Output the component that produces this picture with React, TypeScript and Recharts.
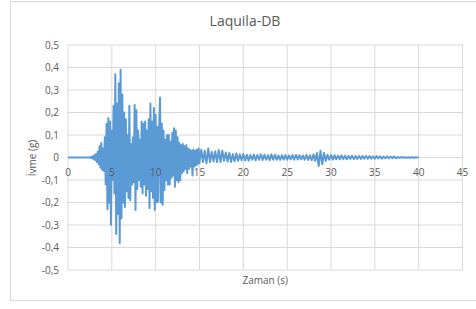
import React from 'react';
import { LineChart, Line, XAxis, YAxis, CartesianGrid } from 'recharts';

// time axis (s) and acceleration axis (g)
const X_TICKS = [0, 5, 10, 15, 20, 25, 30, 35, 40, 45];
const Y_TICKS = [-0.5, -0.4, -0.3, -0.2, -0.1, 0, 0.1, 0.2, 0.3, 0.4, 0.5];

// quiet record before the P arrival
const PRE_EVENT_T = [0, 1, 2];
const PRE_EVENT_A = [0, 0, 0];

// strong motion part, sampled every 0.1 s from 2.5 s
const STRONG_START = 2.5;
const STRONG_DT = 0.1;
const STRONG_A = [
  0, 0.002, -0.003, 0.005, -0.006, 0.01, -0.012, 0.016, -0.02, 0.025,
  -0.03, 0.05, -0.045, 0.065, -0.055, 0.04, -0.06, 0.09, -0.12, 0.15,
  -0.23, 0.175, -0.2, 0.16, -0.3, 0.12, -0.1, 0.23, -0.16, 0.37,
  -0.34, 0.24, -0.25, 0.33, -0.38, 0.39, -0.27, 0.28, -0.2, 0.2,
  -0.22, 0.17, -0.15, 0.1, -0.18, 0.23, -0.19, 0.06, -0.12, 0.09,
  -0.11, 0.233, -0.233, 0.21, -0.14, 0.12, -0.1, 0.08, -0.13, 0.16,
  -0.16, 0.15, -0.12, 0.16, -0.17, 0.12, -0.14, 0.17, -0.225, 0.24,
  -0.15, 0.16, -0.18, 0.22, -0.233, 0.19, -0.2, 0.137, -0.196, 0.15,
  0.267, -0.2, 0.15, -0.21, 0.12, -0.144, 0.08, -0.1, 0.1, -0.12,
  0.1, -0.12, 0.07, -0.09, 0.11, -0.08, 0.13, -0.13, 0.12, -0.1,
  0.09, -0.11, 0.065, -0.1, 0.055, -0.07, 0.06, -0.06, 0.05, -0.05,
  0.055, -0.07, 0.04, -0.05, 0.035, -0.04, 0.03, -0.08, 0.035, -0.04,
  0.03, -0.035, 0.035, -0.03, 0.04,
];

// coda, sampled every 0.2 s from 15 s
const CODA_START = 15;
const CODA_DT = 0.2;
const CODA_A = [
  -0.025, 0.035, -0.02, 0.03, -0.026, 0.04, -0.02, 0.025, -0.018, 0.028,
  -0.02, 0.033, -0.02, 0.03, -0.015, 0.022, -0.018, 0.02, -0.02, 0.015,
  -0.017, 0.018, -0.015, 0.014, -0.012, 0.016, -0.013, 0.012, -0.014, 0.011,
  -0.01, 0.013, -0.012, 0.011, -0.01, 0.014, -0.011, 0.012, -0.01, 0.01,
  -0.012, 0.014, -0.01, 0.012, -0.01, 0.009, -0.011, 0.01, -0.009, 0.011,
  -0.01, 0.009, -0.008, 0.011, -0.01, 0.012, -0.009, 0.01, -0.008, 0.009,
  -0.01, 0.012, -0.011, 0.01, -0.012, 0.014, -0.015, 0.02, -0.038, 0.03,
  -0.03, 0.02, -0.015, 0.012, -0.01, 0.011, -0.009, 0.01, -0.008, 0.008,
  -0.008, 0.009, -0.007, 0.008, -0.008, 0.007, -0.006, 0.008, -0.007, 0.006,
  -0.006, 0.007, -0.006, 0.006, -0.005, 0.007, -0.005, 0.006, -0.005, 0.005,
  -0.005, 0.006, -0.004, 0.005, -0.005, 0.004, -0.004, 0.005, -0.004, 0.004,
  -0.003, 0.004, -0.003, 0.002, -0.002, 0.002, -0.001, 0.001, -0.001, 0.001,
  -0.001, 0.001, -0.001, 0.001, 0, 0,
];

const data = [
  ...PRE_EVENT_T.map((t, i) => ({ t, a: PRE_EVENT_A[i] })),
  ...STRONG_A.map((a, i) => ({ t: STRONG_START + i * STRONG_DT, a })),
  ...CODA_A.map((a, i) => ({ t: CODA_START + i * CODA_DT, a })),
];

const W = 476;
const H = 309;
const PLOT_TOP = 45;
const PLOT_BOTTOM = 270;
const PLOT_LEFT = 68;
const PLOT_RIGHT = 462.5;
const X_AXIS_H = 20;
const Y_MIN = -0.5;
const Y_MAX = 0.5;
// pixel row of a = 0, where Excel puts the category labels
const ZERO_Y = PLOT_TOP + ((PLOT_BOTTOM - PLOT_TOP) * (Y_MAX - 0)) / (Y_MAX - Y_MIN);

const FONT = '"Open Sans", sans-serif';
const TEXT = '#595959';

const fmt = (v: number) => (v === 0 ? '0' : v.toFixed(1).replace('.', ','));

const XTick = (props: any) => {
  const { x, payload } = props;
  return (
    <text x={x} y={ZERO_Y + 18.5} textAnchor="middle" fill={TEXT} fontSize={10} fontFamily={FONT}>
      {payload.value}
    </text>
  );
};

const App = () => {
  return (
    <div style={{ position: 'absolute', left: 0, top: 0, width: W, height: H, background: '#fff', fontFamily: FONT }}>
      <div style={{ position: 'absolute', left: 10, top: 1, width: 470, height: 300, border: '1px solid #d9d9d9', boxSizing: 'border-box' }} />
      <div style={{ position: 'absolute', left: 0, top: 11, width: 490, textAlign: 'center', fontSize: 14, color: TEXT }}>
        Laquila-DB
      </div>
      <div style={{ position: 'absolute', left: PLOT_LEFT, top: 273, width: PLOT_RIGHT - PLOT_LEFT, textAlign: 'center', fontSize: 10, color: TEXT }}>
        Zaman (s)
      </div>
      <div style={{ position: 'absolute', left: 32, top: 158, transform: 'translate(-50%, -50%) rotate(-90deg)', fontSize: 10, color: TEXT, whiteSpace: 'nowrap' }}>
        İvme (g)
      </div>
      <div style={{ position: 'absolute', left: 0, top: 0 }}>
        <LineChart
          width={W}
          height={H}
          data={data}
          margin={{ top: PLOT_TOP, right: W - PLOT_RIGHT, bottom: H - PLOT_BOTTOM - X_AXIS_H, left: 0 }}
        >
          <CartesianGrid stroke="#d9d9d9" strokeWidth={1} />
          <XAxis
            dataKey="t"
            type="number"
            domain={[0, 45]}
            ticks={X_TICKS}
            height={X_AXIS_H}
            axisLine={false}
            tickLine={false}
            tick={<XTick />}
            interval={0}
          />
          <YAxis
            type="number"
            domain={[Y_MIN, Y_MAX]}
            ticks={Y_TICKS}
            width={PLOT_LEFT}
            axisLine={false}
            tickLine={false}
            tickSize={6}
            tickMargin={3}
            tickFormatter={fmt}
            tick={{ fill: TEXT, fontSize: 10, fontFamily: FONT }}
            interval={0}
          />
          <Line
            type="linear"
            dataKey="a"
            stroke="#5b9bd5"
            strokeWidth={2}
            strokeLinejoin="round"
            dot={false}
            isAnimationActive={false}
          />
        </LineChart>
      </div>
    </div>
  );
};

export default App;
